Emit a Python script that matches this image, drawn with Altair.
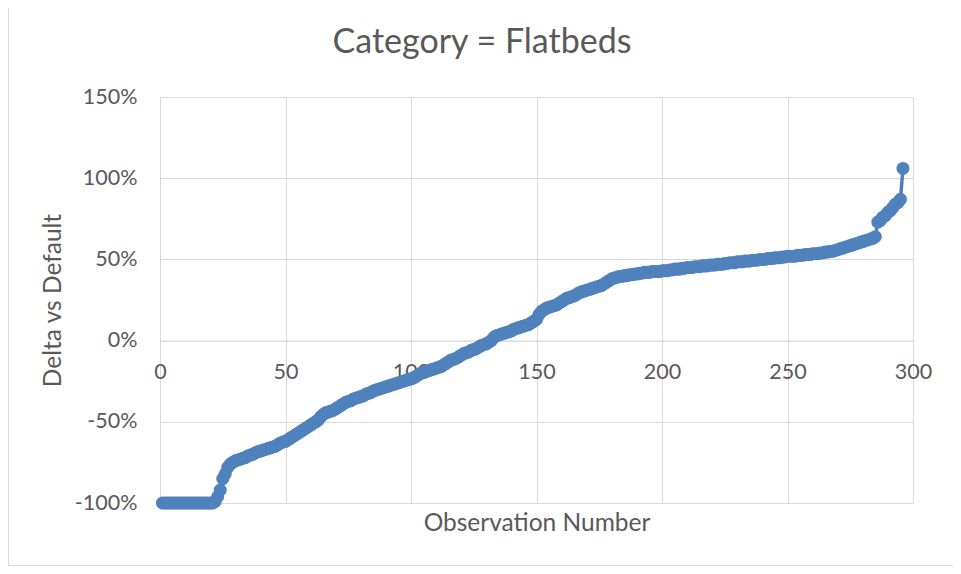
import altair as alt
import pandas as pd

title_text = "Category = Flatbeds"
x_title = "Observation Number"
y_title = "Delta vs Default"

x_ticks = [0, 50, 100, 150, 200, 250, 300]
y_ticks = [-1.0, -0.5, 0.0, 0.5, 1.0, 1.5]

delta_pct = [
    -100, -100, -100, -100, -100, -100, -100, -100, -100, -100,
    -100, -100, -100, -100, -100, -100, -100, -100, -100, -100,
    -100,
    -99, -96, -92, -85, -82, -78, -76, -75, -74,
    -73.5, -73, -72.5, -72, -71, -70.5, -70, -69,
    -68.5, -68, -67.5, -67, -66.5, -66, -65.5, -65, -64, -63,
    -62.5, -62, -61,
    -60, -59, -58, -57, -56, -55,
    -54, -53, -52, -51, -50, -49, -47,
    -45.5, -44.5, -44,
    -43.5, -43, -42, -41, -40, -39, -38,
    -37.5, -37, -36, -35.5, -35, -34.5, -34, -33, -32.5, -32, -31,
    -30.5, -30, -29.5, -29, -28.5, -28, -27.5, -27, -26.5, -26, -25.5, -25, -24.5, -24, -23.5,
    -23, -22, -21, -20, -19.5, -19, -18.5, -18, -17.5, -17, -16.5, -16,
    -15, -14, -13, -12, -11.5, -11, -10, -9, -8, -7.5,
    -7, -6, -5.5, -5, -4, -3, -2.5, -2, -1, 0, 2,
    3, 3.5, 4, 4.5, 5, 5.5, 6, 7,
    7.5, 8, 8.5, 9, 9.5, 10, 11, 12, 13,
    16, 18, 19, 20, 20.5, 21, 21.5, 22,
    23, 24, 25, 26, 26.5, 27, 27.5, 28.5, 29.5,
    30, 30.5, 31, 31.5, 32, 32.5, 33, 33.5, 34, 35,
    36, 37, 38, 38.5, 39, 39.5,
    39.5, 40, 40, 40.5, 40.5, 41, 41, 41.5, 41.5, 42,
    42, 42, 42.5, 42.5, 42.5, 42.5, 43,
    43, 43, 43.5, 43.5, 44, 44, 44, 44.5, 44.5, 45, 45, 45, 45.5, 45.5,
    45.5, 46, 46, 46, 46.5, 46.5, 46.5, 47, 47, 47, 47.5, 47.5, 48,
    48, 48, 48.5, 48.5, 48.5, 49, 49, 49, 49.5, 49.5, 49.5, 50, 50, 50,
    50.5, 50.5, 50.5, 51, 51, 51, 51.5, 51.5, 52,
    52, 52, 52, 52.5, 52.5, 52.5, 53, 53, 53, 53.5, 53.5, 53.5, 54, 54,
    54.5, 54.5, 55, 55, 55.5, 56, 56.5, 57, 57.5,
    58, 58.5, 59, 59.5, 60, 60.5, 61, 61.5, 62, 62.5, 63, 64,
    73, 74, 76, 77, 79, 80, 82, 84, 85, 87, 106,
]
observation = list(range(1, len(delta_pct) + 1))

df = pd.DataFrame({"obs": observation, "pct": delta_pct})

FONT = "Lato"
GREY = "#595959"
GRID = "#d9d9d9"
BLUE = "#4F81BD"

W, H = 753, 406
PAD_L, PAD_T, PAD_R, PAD_B = 152, 89, 40, 63
zero_px = H * 1.5 / 2.5

line = (
    alt.Chart(df)
    .transform_calculate(delta="datum.pct / 100")
    .mark_line(
        color=BLUE,
        strokeWidth=3.5,
        point=alt.OverlayMarkDef(filled=True, size=170, color=BLUE, opacity=1),
    )
    .encode(
        x=alt.X(
            "obs:Q",
            scale=alt.Scale(domain=[0, 300], nice=False),
            axis=alt.Axis(
                values=x_ticks,
                title=x_title,
                offset=zero_px - H,
                ticks=False,
                tickSize=0,
                labelPadding=21,
                labelFlush=False,
                domainColor=GRID,
                gridColor=GRID,
                titleY=183,
                titleBaseline="middle",
                titleFontSize=24.5,
                labelFontSize=21.5,
            ),
        ),
        y=alt.Y(
            "delta:Q",
            scale=alt.Scale(domain=[-1.0, 1.5], nice=False),
            axis=alt.Axis(
                values=y_ticks,
                labelExpr="round(datum.value * 100) + '%'",
                title=y_title,
                ticks=False,
                tickSize=0,
                labelPadding=23,
                labelFlush=False,
                domain=False,
                gridColor=GRID,
                titleX=-107,
                titleY=H / 2,
                titleAlign="center",
                titleBaseline="middle",
                titleFontSize=24.5,
                labelFontSize=21.5,
            ),
        ),
    )
)

title_df = pd.DataFrame({"label": [title_text]})
title_mark = (
    alt.Chart(title_df)
    .mark_text(
        font=FONT,
        fontSize=34,
        color=GREY,
        align="center",
        baseline="alphabetic",
    )
    .encode(x=alt.value(322), y=alt.value(-44), text="label:N")
)

border_left = (
    alt.Chart(pd.DataFrame({"k": [0]}))
    .mark_rule(color=GRID, strokeWidth=1)
    .encode(x=alt.value(-PAD_L + 0.5), y=alt.value(-PAD_T), y2=alt.value(H + PAD_B))
)
border_bottom = (
    alt.Chart(pd.DataFrame({"k": [0]}))
    .mark_rule(color=GRID, strokeWidth=1)
    .encode(x=alt.value(-PAD_L), x2=alt.value(W + PAD_R), y=alt.value(H + PAD_B - 0.5))
)

chart = (
    alt.layer(border_left, border_bottom, title_mark, line)
    .properties(
        width=W,
        height=H,
        autosize=alt.AutoSizeParams(type="none"),
        padding={"left": PAD_L, "top": PAD_T, "right": PAD_R, "bottom": PAD_B},
    )
    .configure_axis(
        labelFont=FONT,
        titleFont=FONT,
        labelColor=GREY,
        titleColor=GREY,
        titleFontWeight="normal",
        gridWidth=1,
    )
    .configure_view(stroke=None)
)

chart.save("out.html", embed_options={"renderer": "svg", "actions": False})
